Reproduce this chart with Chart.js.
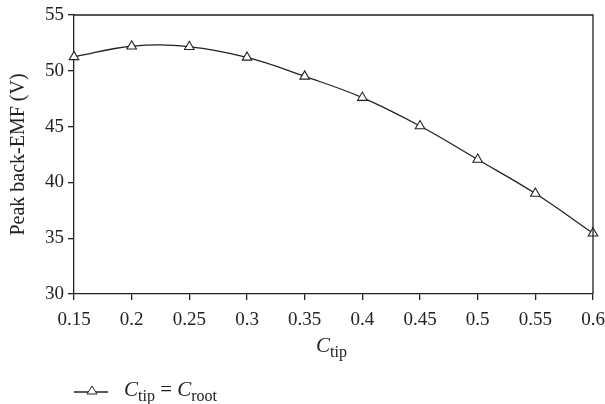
<!DOCTYPE html>
<html>
<head>
<meta charset="utf-8">
<script src="https://cdn.jsdelivr.net/npm/chart.js@4.4.1/dist/chart.umd.min.js"></script>
<style>
    html, body { margin: 0; padding: 0; background: #fff; }
    #wrap { position: relative; width: 605px; height: 404px; font-family: "Liberation Serif", serif; color: #222; }
    #chart { position: absolute; left: 0; top: 0; }
    .math { position: absolute; white-space: nowrap; font-size: 21px; line-height: 1; }
    .math i { font-style: italic; }
    .math sub { font-size: 16px; vertical-align: -5px; line-height: 1; }
    #xtitle { left: 316px; top: 335px; }
    #legend { left: 74px; top: 379px; }
    #legend svg { vertical-align: 0px; margin-right: 14px; }
</style>
</head>
<body>
<div id="wrap">
    <canvas id="chart" width="605" height="404"></canvas>
    <div class="math" id="xtitle"><i>C</i><sub>tip</sub></div>
    <div class="math" id="legend"><svg width="36" height="12"><line x1="0" y1="8" x2="34" y2="8" stroke="#222" stroke-width="1.3"/><polygon points="18,2 23,10 13,10" fill="#fff" stroke="#222" stroke-width="1"/></svg><i>C</i><sub>tip</sub> = <i>C</i><sub>root</sub></div>
</div>
<script>
// data
const cTip = [0.15, 0.2, 0.25, 0.3, 0.35, 0.4, 0.45, 0.5, 0.55, 0.6];
const backEmf = [51.25, 52.2, 52.15, 51.2, 49.5, 47.6, 45.05, 42.05, 39.0, 35.45];
const xTicks = [0.15, 0.2, 0.25, 0.3, 0.35, 0.4, 0.45, 0.5, 0.55, 0.6];
const yTicks = [30, 35, 40, 45, 50, 55];

const ink = '#222';
const tickFont = { family: 'Liberation Serif', size: 19 };

// top and right border of the plot
const frame = {
    id: 'frame',
    afterDraw(chart) {
        const a = chart.chartArea;
        const ctx = chart.ctx;
        ctx.save();
        ctx.strokeStyle = ink;
        ctx.lineWidth = 1.3;
        ctx.beginPath();
        ctx.moveTo(a.left, a.top);
        ctx.lineTo(a.right, a.top);
        ctx.lineTo(a.right, a.bottom);
        ctx.stroke();
        ctx.restore();
    }
};

new Chart(document.getElementById('chart'), {
    type: 'line',
    data: {
        datasets: [{
            label: 'Ctip = Croot',
            data: cTip.map((x, i) => ({ x: x, y: backEmf[i] })),
            borderColor: ink,
            borderWidth: 1.3,
            tension: 0.4,
            pointStyle: 'triangle',
            pointRadius: 5.5,
            pointBackgroundColor: '#fff',
            pointBorderColor: ink,
            pointBorderWidth: 1.1,
            clip: false
        }]
    },
    options: {
        responsive: false,
        animation: false,
        layout: { padding: { top: 15, right: 12, left: 0, bottom: 0 } },
        plugins: {
            legend: { display: false },
            tooltip: { enabled: false }
        },
        scales: {
            x: {
                type: 'linear',
                min: 0.15,
                max: 0.6,
                afterBuildTicks: s => { s.ticks = xTicks.map(v => ({ value: v })); },
                afterFit: s => { s.height = 110; s.paddingLeft = 0; s.paddingRight = 0; },
                border: { color: ink, width: 1.3 },
                grid: { drawOnChartArea: false, color: ink, lineWidth: 1.3, tickLength: 6 },
                ticks: { color: ink, font: tickFont, padding: 9, maxRotation: 0, callback: v => String(v) }
            },
            y: {
                min: 30,
                max: 55,
                afterBuildTicks: s => { s.ticks = yTicks.map(v => ({ value: v })); },
                afterFit: s => { s.width = 74; s.paddingTop = 0; s.paddingBottom = 0; },
                border: { color: ink, width: 1.3 },
                grid: { drawOnChartArea: false, color: ink, lineWidth: 1.3, tickLength: 6 },
                ticks: { color: ink, font: tickFont, padding: 4 },
                title: {
                    display: true,
                    text: 'Peak back-EMF (V)',
                    color: ink,
                    font: { family: 'Liberation Serif', size: 20 },
                    padding: { top: 7, bottom: 2 }
                }
            }
        }
    },
    plugins: [frame]
});
</script>
</body>
</html>
